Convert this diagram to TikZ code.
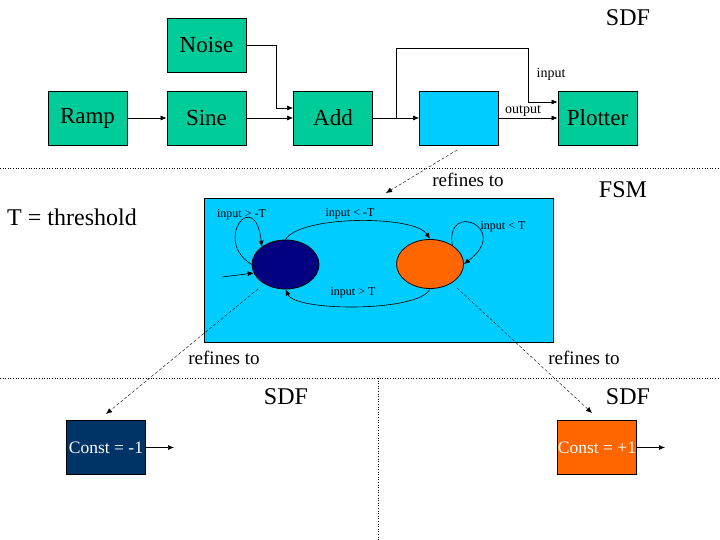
\documentclass[tikz,border=0pt]{standalone}
\usepackage{fontspec}
\setmainfont{Liberation Serif}
\usepackage{xcolor}
\usetikzlibrary{shapes.geometric, arrows.meta}

\definecolor{actorgreen}{HTML}{00CC99}
\definecolor{refinecyan}{HTML}{00CCFF}
\definecolor{lowblue}{HTML}{000080}
\definecolor{highorange}{HTML}{FF6600}
\definecolor{constblue}{HTML}{003366}

\tikzset{
	actor/.style={draw, line width=0.8pt, fill=actorgreen, minimum width=79pt,
		minimum height=54pt, inner sep=0pt, font=\fontsize{23}{26}\selectfont},
	constbox/.style={actor, text=white, font=\fontsize{17.5}{20}\selectfont},
	state/.style={ellipse, draw, line width=0.8pt, minimum width=67pt,
		minimum height=49pt, inner sep=0pt},
	small/.style={font=\fontsize{12}{14}\selectfont, inner sep=0pt},
	portlbl/.style={font=\fontsize{14}{16}\selectfont, inner sep=0pt},
	big/.style={font=\fontsize{24}{28}\selectfont, inner sep=0pt},
	reflbl/.style={font=\fontsize{19}{22}\selectfont, inner sep=0pt},
	refarrow/.style={->, dash pattern=on 3pt off 2pt, line width=0.4pt},
	sep/.style={dotted, line width=0.6pt}
}

\begin{document}
\begin{tikzpicture}[x=1pt, y=-1pt, >={Latex[length=6pt, width=5pt]},
		line width=0.6pt]
	\useasboundingbox (0,0) rectangle (720,540);

	% separators
	\draw[sep] (0,168) -- (720,168);
	\draw[sep] (0,378) -- (720,378);
	\draw[sep] (378,378) -- (378,540);

	% top level SDF model
	\node[actor] (noise) at (206.5,45) {Noise};
	\node[actor] (ramp) at (87.5,118) {Ramp};
	\node[actor] (sine) at (206.5,118) {Sine};
	\node[actor] (add) at (333,118) {Add};
	\node[actor, fill=refinecyan] (modal) at (459,118) {};
	\node[actor] (plotter) at (597.5,118) {Plotter};
	\node[big] (sdftop) at (628,18) {SDF};

	\coordinate (noisebend) at (276,108);
	\coordinate (split) at (396,118);
	\coordinate (feedcorner) at (528,48);

	\draw[->] (ramp) -- (sine);
	\draw[->] (sine) -- (add);
	\draw[->] (noise.east) -| (noisebend) -- (add.west |- noisebend);
	\draw[->] (add) -- (modal);
	\draw[->] (split) |- (feedcorner) |- ([yshift=16pt]plotter.west);
	\draw[->] (modal) -- (plotter);
	\node[portlbl] (inlbl) at (551,74) {input};
	\node[portlbl] (outlbl) at (523,111) {output};

	% refinement of the blue actor
	\coordinate (modaltail) at (457,150);
	\coordinate (fsmtip) at (386,193);
	\draw[refarrow] (modaltail) -- (fsmtip);
	\node[reflbl] (refone) at (468,180) {refines to};

	% FSM
	\node[draw, line width=0.8pt, fill=refinecyan, minimum width=349pt,
		minimum height=144pt, inner sep=0pt] (fsm) at (378.5,270) {};
	\node[big] (fsmlbl) at (623,190) {FSM};
	\node[big] (thresh) at (72,217) {T = threshold};

	\node[state, fill=lowblue] (low) at (285.5,264.5) {};
	\node[state, fill=highorange] (high) at (430,264) {};
	\coordinate (init) at (222,277);

	\draw[->] (init) -- (low.195);
	\draw[->] (low.west) .. controls (212,240) and (255,186) .. (low.143);
	\draw[->] (high.40) .. controls (445,200) and (512,228) .. (high.east);
	\draw[->] (low.north) .. controls (300,215) and (415,215) .. (high.north);
	\draw[->] (high.south) .. controls (420,312) and (296,312) .. (low.south);
	\node[small] (selflow) at (241.5,215) {input > -T};
	\node[small] (selfhigh) at (503,227) {input < T};
	\node[small] (tohigh) at (350,214) {input < -T};
	\node[small] (tolow) at (353,293) {input > T};

	% refinements of the states
	\node[constbox, fill=constblue] (constlow) at (106,447.5) {Const = -1};
	\node[constbox, fill=highorange] (consthigh) at (597,447.5) {Const = +1};
	\node[big] (sdfleft) at (286,397) {SDF};
	\node[big] (sdfright) at (628,397) {SDF};

	\coordinate (lowtail) at (258,289);
	\coordinate (lowtip) at (106,414);
	\coordinate (hightail) at (457,288);
	\coordinate (hightip) at (592,413);
	\draw[refarrow] (lowtail) -- (lowtip);
	\draw[refarrow] (hightail) -- (hightip);
	\node[reflbl] (reftwo) at (224,358) {refines to};
	\node[reflbl] (refthree) at (584,358) {refines to};

	\coordinate (lowout) at (174,447.5);
	\coordinate (highout) at (665,447.5);
	\draw[->] (constlow) -- (lowout);
	\draw[->] (consthigh) -- (highout);
\end{tikzpicture}
\end{document}
